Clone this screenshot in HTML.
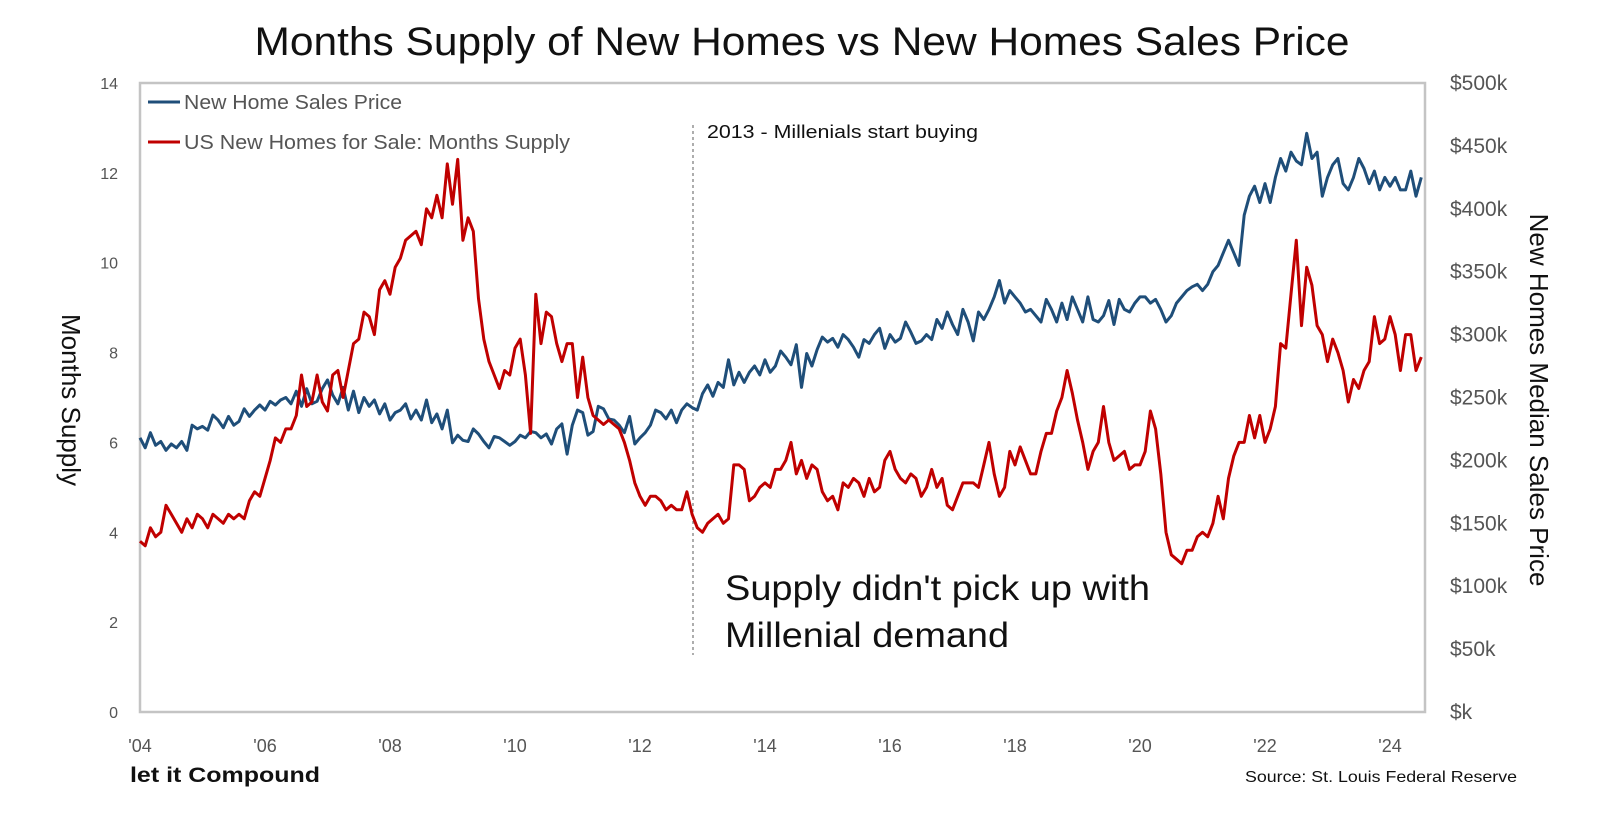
<!DOCTYPE html>
<html><head><meta charset="utf-8"><style>
html,body{margin:0;padding:0;background:#fff;}
svg{display:block;font-family:"Liberation Sans",sans-serif;}
</style></head><body>
<svg id="chart" width="1600" height="813">
<rect x="0" y="0" width="1600" height="813" fill="#fff"/>
<text x="802" y="55" text-anchor="middle" font-size="40" fill="#111" textLength="1095" lengthAdjust="spacingAndGlyphs">Months Supply of New Homes vs New Homes Sales Price</text>
<rect x="140" y="83" width="1285" height="629" fill="none" stroke="#c4c4c4" stroke-width="2.5"/>
<g id="ticks"></g>
<line x1="693" y1="125" x2="693" y2="655" stroke="#777" stroke-width="1.2" stroke-dasharray="3,3"/>
<text x="707" y="138" font-size="18" fill="#111" textLength="271" lengthAdjust="spacingAndGlyphs">2013 - Millenials start buying</text>
<text x="725" y="600" font-size="35" fill="#111" textLength="425" lengthAdjust="spacingAndGlyphs">Supply didn't pick up with</text>
<text x="725" y="647" font-size="35" fill="#111" textLength="284" lengthAdjust="spacingAndGlyphs">Millenial demand</text>
<g id="series"></g>
<line x1="148" y1="102" x2="180" y2="102" stroke="#1f4e79" stroke-width="3"/>
<text x="184" y="109" font-size="20" fill="#555" textLength="218" lengthAdjust="spacingAndGlyphs">New Home Sales Price</text>
<line x1="148" y1="142" x2="180" y2="142" stroke="#c00000" stroke-width="3"/>
<text x="184" y="149" font-size="20" fill="#555" textLength="386" lengthAdjust="spacingAndGlyphs">US New Homes for Sale: Months Supply</text>
<text transform="translate(62,400) rotate(90)" text-anchor="middle" font-size="26" fill="#111">Months Supply</text>
<text transform="translate(1530,400) rotate(90)" text-anchor="middle" font-size="26" fill="#111">New Homes Median Sales Price</text>
<text x="130" y="782" font-size="21" font-weight="bold" fill="#111" textLength="190" lengthAdjust="spacingAndGlyphs">let it Compound</text>
<text x="1245" y="782" font-size="16" fill="#111" textLength="272" lengthAdjust="spacingAndGlyphs">Source: St. Louis Federal Reserve</text>
</svg>
<script>
const leftTicks=[0,2,4,6,8,10,12,14];
const rightTicks=["$k","$50k","$100k","$150k","$200k","$250k","$300k","$350k","$400k","$450k","$500k"];
const yearTicks=["'04","'06","'08","'10","'12","'14","'16","'18","'20","'22","'24"];
const startYear=2004;
const supply=[
3.8,3.7,4.1,3.9,4.0,4.6,4.4,4.2,4.0,4.3,4.1,4.4,
4.3,4.1,4.4,4.3,4.2,4.4,4.3,4.4,4.3,4.7,4.9,4.8,
5.2,5.6,6.1,6.0,6.3,6.3,6.6,7.5,6.8,6.9,7.5,6.9,
6.7,7.5,7.6,7.0,7.6,8.2,8.3,8.9,8.8,8.4,9.4,9.6,
9.3,9.9,10.1,10.5,10.6,10.7,10.4,11.2,11.0,11.5,11.0,12.2,
11.3,12.3,10.5,11.0,10.7,9.2,8.3,7.8,7.5,7.2,7.6,7.5,
8.1,8.3,7.5,6.2,9.3,8.2,8.9,8.8,8.2,7.8,8.2,8.2,
7.0,7.9,7.0,6.6,6.5,6.4,6.5,6.4,6.3,6.0,5.6,5.1,
4.8,4.6,4.8,4.8,4.7,4.5,4.6,4.5,4.5,4.9,4.4,4.1,
4.0,4.2,4.3,4.4,4.2,4.3,5.5,5.5,5.4,4.7,4.8,5.0,
5.1,5.0,5.4,5.4,5.6,6.0,5.3,5.6,5.2,5.5,5.4,4.9,
4.7,4.8,4.5,5.1,5.0,5.2,5.1,4.8,5.2,4.9,5.0,5.6,
5.8,5.4,5.2,5.1,5.3,5.2,4.8,5.0,5.4,5.0,5.2,4.6,
4.5,4.8,5.1,5.1,5.1,5.0,5.5,6.0,5.3,4.8,5.0,5.8,
5.5,5.9,5.6,5.3,5.3,5.8,6.2,6.2,6.7,7.0,7.6,7.1,
6.5,6.0,5.4,5.8,6.0,6.8,6.0,5.6,5.7,5.8,5.4,5.5,
5.5,5.8,6.7,6.3,5.3,4.0,3.5,3.4,3.3,3.6,3.6,3.9,
4.0,3.9,4.2,4.8,4.3,5.2,5.7,6.0,6.0,6.6,6.1,6.6,
6.0,6.3,6.8,8.2,8.1,9.3,10.5,8.6,9.9,9.5,8.6,8.4,
7.8,8.3,8.0,7.6,6.9,7.4,7.2,7.6,7.8,8.8,8.2,8.3,
8.8,8.4,7.6,8.4,8.4,7.6,7.9];
const priceK=[
218,210,222,212,215,208,213,210,215,208,228,225,
227,224,236,232,226,235,228,231,241,235,240,244,
240,247,244,248,250,245,255,243,257,245,247,257,
264,252,245,258,240,255,238,250,243,248,237,245,
232,238,240,245,233,240,232,248,230,237,225,240,
214,220,216,215,225,221,215,210,219,218,215,212,
215,220,218,223,222,218,221,213,225,229,205,228,
240,238,220,223,243,241,233,232,228,222,235,213,
218,222,228,240,238,233,240,230,240,245,242,240,
253,260,251,262,258,280,260,270,262,270,275,268,
280,270,275,287,282,276,292,258,285,275,288,298,
294,297,290,300,296,290,282,296,293,300,305,289,
300,294,297,310,302,293,295,300,296,312,305,318,
308,300,320,310,295,318,312,320,330,343,325,335,
330,325,318,320,315,310,328,320,310,325,312,330,
320,310,330,312,310,315,327,308,328,320,318,325,
330,330,325,328,320,310,315,325,330,335,338,340,
335,340,350,355,365,375,365,355,395,410,418,405,
420,405,425,440,430,445,438,435,460,440,445,410,
425,435,440,420,415,425,440,432,420,430,415,425,
418,425,415,415,430,410,425];
const NS="http://www.w3.org/2000/svg";
const X0=140,PX_PER_YEAR=62.5,YB=712,YT=83;
function xScale(t){return X0+(t-startYear)*PX_PER_YEAR;}
function yLeft(v){return YB-(v/14)*(YB-YT);}
function yRight(k){return YB-(k/500)*(YB-YT);}
const tg=document.getElementById('ticks');
function txt(x,y,s,anchor,size){const t=document.createElementNS(NS,'text');t.setAttribute('x',x);t.setAttribute('y',y);t.setAttribute('text-anchor',anchor);t.setAttribute('font-size',size);t.setAttribute('fill','#555');t.textContent=s;tg.appendChild(t);return t;}
leftTicks.forEach(v=>{const t=txt(118,yLeft(v)+6,String(v),'end',16);

});
rightTicks.forEach((s,i)=>{const t=txt(1450,yRight(i*50)+7,s,'start',21);

});
yearTicks.forEach((s,i)=>{const t=txt(xScale(startYear+i*2),752,s,'middle',18);

});
const sg=document.getElementById('series');
function line(vals,yf,color,name){const p=vals.map((v,i)=>xScale(startYear+i/12).toFixed(1)+','+yf(v).toFixed(1)).join(' ');
const pl=document.createElementNS(NS,'polyline');pl.setAttribute('points',p);pl.setAttribute('fill','none');pl.setAttribute('stroke',color);pl.setAttribute('stroke-width','3');pl.setAttribute('stroke-linejoin','round');


sg.appendChild(pl);}
line(priceK,yRight,'#1f4e79','price-line');
line(supply,yLeft,'#c00000','supply-line');
</script>
</body></html>
